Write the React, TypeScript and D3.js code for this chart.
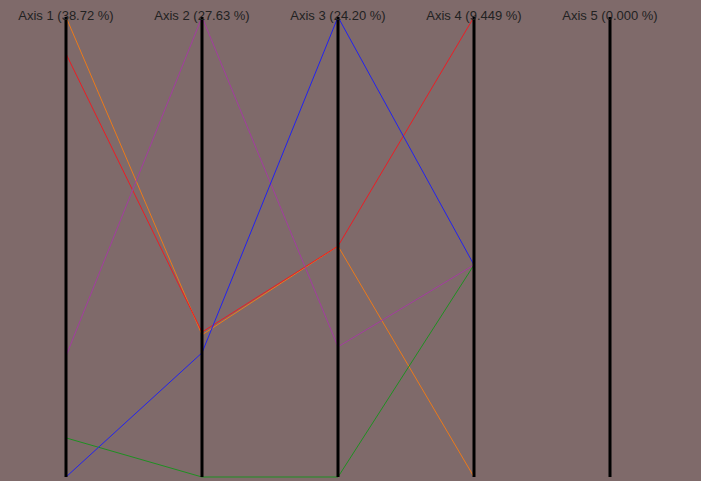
import * as d3 from "d3";
import { useEffect, useRef } from "react";

// axis labels (explained variance per axis)
const axisNames = [
  "Axis 1 (38.72 %)",
  "Axis 2 (27.63 %)",
  "Axis 3 (24.20 %)",
  "Axis 4 (9.449 %)",
  "Axis 5 (0.000 %)",
];

// one row per series, normalized 0..1 on the first four axes
const orangeValues = [1.0, 0.309, 0.502, 0.0];
const redValues = [0.92, 0.315, 0.502, 1.0];
const purpleValues = [0.263, 1.0, 0.283, 0.461];
const greenValues = [0.085, 0.0, 0.0, 0.461];
const blueValues = [0.0, 0.27, 1.0, 0.461];

const seriesColors = ["#ec7a1a", "#ec1c24", "#a33ca0", "#1f8f22", "#2222f0"];
const seriesValues = [orangeValues, redValues, purpleValues, greenValues, blueValues];

export default function App() {
  const svgRef = useRef<SVGSVGElement>(null);

  const width = 701;
  const height = 481;

  useEffect(() => {
    const svg = d3.select(svgRef.current);
    svg.selectAll("*").remove();

    // background
    svg.append("rect").attr("width", width).attr("height", height).attr("fill", "#7f6a6a");

    //scales
    const xScale = d3.scalePoint<string>().domain(axisNames).range([66, 610]);
    const yScale = d3.scaleLinear().domain([0, 1]).range([477, 17]);

    //lines
    const line = d3
      .line<number>()
      .x((d, i) => xScale(axisNames[i]) as number)
      .y((d) => yScale(d));

    svg
      .selectAll("path.series")
      .data(seriesValues)
      .enter()
      .append("path")
      .attr("class", "series")
      .attr("d", (d) => line(d))
      .attr("fill", "none")
      .attr("stroke", (d, i) => seriesColors[i])
      .attr("stroke-width", 1);

    //axes
    const axes = svg
      .selectAll("g.axis")
      .data(axisNames)
      .enter()
      .append("g")
      .attr("class", "axis")
      .attr("transform", (d) => `translate(${xScale(d)},0)`);

    axes
      .append("line")
      .attr("y1", yScale(1))
      .attr("y2", yScale(0))
      .attr("stroke", "#000")
      .attr("stroke-width", 3);

    axes
      .append("text")
      .attr("y", 20)
      .attr("text-anchor", "middle")
      .style("font-family", "Liberation Sans, Arial, sans-serif")
      .style("font-size", "13px")
      .attr("fill", "#222")
      .text((d) => d);
  }, []);

  return (
    <div style={{ position: "fixed", left: 0, top: 0 }}>
      <svg ref={svgRef} width={width} height={height} style={{ display: "block" }}></svg>
    </div>
  );
}
